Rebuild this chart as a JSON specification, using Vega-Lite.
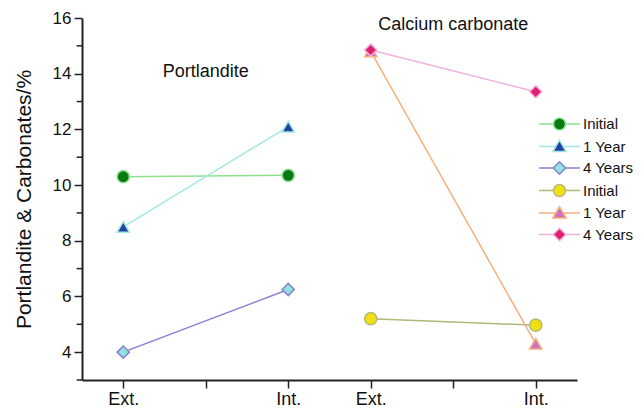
{
  "$schema": "https://vega.github.io/schema/vega-lite/v6.json",
  "autosize": {"type": "none"},
  "padding": {"left": 82, "top": 18, "right": 67, "bottom": 34},
  "width": 495,
  "height": 362,
  "background": "white",
  "config": {"view": {"stroke": null}, "font": "Liberation Sans"},
  "layer": [
    {
      "data": {"values": [
        {"series": "P Initial", "x": 1, "y": 10.3},
        {"series": "P Initial", "x": 3, "y": 10.35},
        {"series": "P 1 Year", "x": 1, "y": 8.5},
        {"series": "P 1 Year", "x": 3, "y": 12.1},
        {"series": "P 4 Years", "x": 1, "y": 4.0},
        {"series": "P 4 Years", "x": 3, "y": 6.25},
        {"series": "C Initial", "x": 4, "y": 5.2},
        {"series": "C Initial", "x": 6, "y": 4.97},
        {"series": "C 1 Year", "x": 4, "y": 14.8},
        {"series": "C 1 Year", "x": 6, "y": 4.3},
        {"series": "C 4 Years", "x": 4, "y": 14.85},
        {"series": "C 4 Years", "x": 6, "y": 13.35}
      ]},
      "encoding": {
        "x": {
          "field": "x", "type": "quantitative",
          "scale": {"domain": [0.5, 6.5], "nice": false, "zero": false},
          "axis": {
            "title": null, "grid": false, "values": [1, 2, 3, 4, 5, 6],
            "labelExpr": "datum.value == 1 || datum.value == 4 ? 'Ext.' : (datum.value == 3 || datum.value == 6 ? 'Int.' : '')",
            "tickSize": 8, "tickWidth": 1.5, "tickColor": "#222",
            "domainWidth": 2, "domainColor": "#222",
            "labelFontSize": 18, "labelColor": "#111", "labelPadding": 2,
            "labelFont": "Liberation Sans", "labelFlush": false, "labelOverlap": false
          }
        },
        "y": {
          "field": "y", "type": "quantitative",
          "scale": {"domain": [3, 16], "nice": false, "zero": false},
          "axis": {
            "title": "Portlandite & Carbonates/%",
            "titleFontSize": 21, "titleFontWeight": "normal", "titleColor": "#111",
            "titleFont": "Liberation Sans", "titlePadding": 18,
            "grid": false, "values": [4, 6, 8, 10, 12, 14, 16],
            "tickSize": 8, "tickWidth": 1.5, "tickColor": "#222",
            "domainWidth": 2, "domainColor": "#222",
            "labelFontSize": 17, "labelColor": "#111", "labelPadding": 3,
            "labelFont": "Liberation Sans", "labelFlush": false, "labelOverlap": false
          }
        },
        "stroke": {
          "field": "series", "type": "nominal",
          "scale": {
            "domain": ["P Initial", "P 1 Year", "P 4 Years", "C Initial", "C 1 Year", "C 4 Years"],
            "range": ["#8fe08f", "#a3e8e2", "#8a80d2", "#b2b878", "#f5b07e", "#f0b2e0"]
          },
          "legend": {
            "orient": "none", "legendX": 470, "legendY": 98.5, "title": null,
            "labelExpr": "slice(datum.label, 2)",
            "labelFont": "Liberation Sans", "labelFontSize": 15, "labelColor": "#111",
            "symbolSize": 144, "symbolStrokeWidth": 1.5, "rowPadding": 3.5,
            "labelOffset": 16, "padding": 0,
            "encoding": {
              "symbols": {
                "shape": {"value": {"expr": "indexof(datum.value, 'Initial') >= 0 ? 'M-3.4,0L-1,0M1,0L3.4,0M-1,0A1,1,0,1,1,1,0A1,1,0,1,1,-1,0Z' : (indexof(datum.value, '1 Year') >= 0 ? 'M-3.4,0L-0.6,0M0.6,0L3.4,0M0,-1.05L1.1,0.85L-1.1,0.85Z' : 'M-3.4,0L-1.05,0M1.05,0L3.4,0M0,-1.05L1.05,0L0,1.05L-1.05,0Z')"}},
                "fill": {"value": {"expr": "scale('fill', datum.value)"}},
                "fillOpacity": {"value": 1},
                "strokeWidth": {"value": 1.5}
              }
            }
          }
        }
      },
      "layer": [
        {
          "mark": {"type": "line", "strokeWidth": 1.5},
          "encoding": {"detail": {"field": "series"}}
        },
        {
          "mark": {"type": "point", "filled": true, "size": 150, "strokeWidth": 1.5, "opacity": 1},
          "encoding": {
            "fill": {
              "field": "series", "type": "nominal",
              "scale": {
                "domain": ["C 4 Years", "C 1 Year", "C Initial", "P 4 Years", "P 1 Year", "P Initial"],
                "range": ["#e0206e", "#d070c2", "#f0e012", "#8fe2e0", "#2342a2", "#0b7a10"]
              },
              "legend": null
            },
            "shape": {
              "field": "series", "type": "nominal",
              "scale": {
                "domain": ["P 1 Year", "P Initial", "P 4 Years", "C Initial", "C 4 Years", "C 1 Year"],
                "range": ["triangle-up", "circle", "diamond", "circle", "diamond", "triangle-up"]
              },
              "legend": null
            }
          }
        }
      ]
    },
    {
      "data": {"values": [{"minor": 3}, {"minor": 5}, {"minor": 7}, {"minor": 9}, {"minor": 11}, {"minor": 13}, {"minor": 15}]},
      "mark": {"type": "rule", "strokeWidth": 1.5, "color": "#222", "clip": false},
      "encoding": {
        "x": {"datum": 0.435, "type": "quantitative"},
        "x2": {"datum": 0.5},
        "y": {"field": "minor", "type": "quantitative"}
      }
    },
    {
      "data": {"values": [
        {"label": "Portlandite", "x": 2, "y": 14.05},
        {"label": "Calcium carbonate", "x": 5, "y": 15.75}
      ]},
      "mark": {"type": "text", "fontSize": 18, "font": "Liberation Sans", "color": "#111", "baseline": "middle", "align": "center"},
      "encoding": {
        "x": {"field": "x", "type": "quantitative"},
        "y": {"field": "y", "type": "quantitative"},
        "text": {"field": "label"}
      }
    }
  ]
}
